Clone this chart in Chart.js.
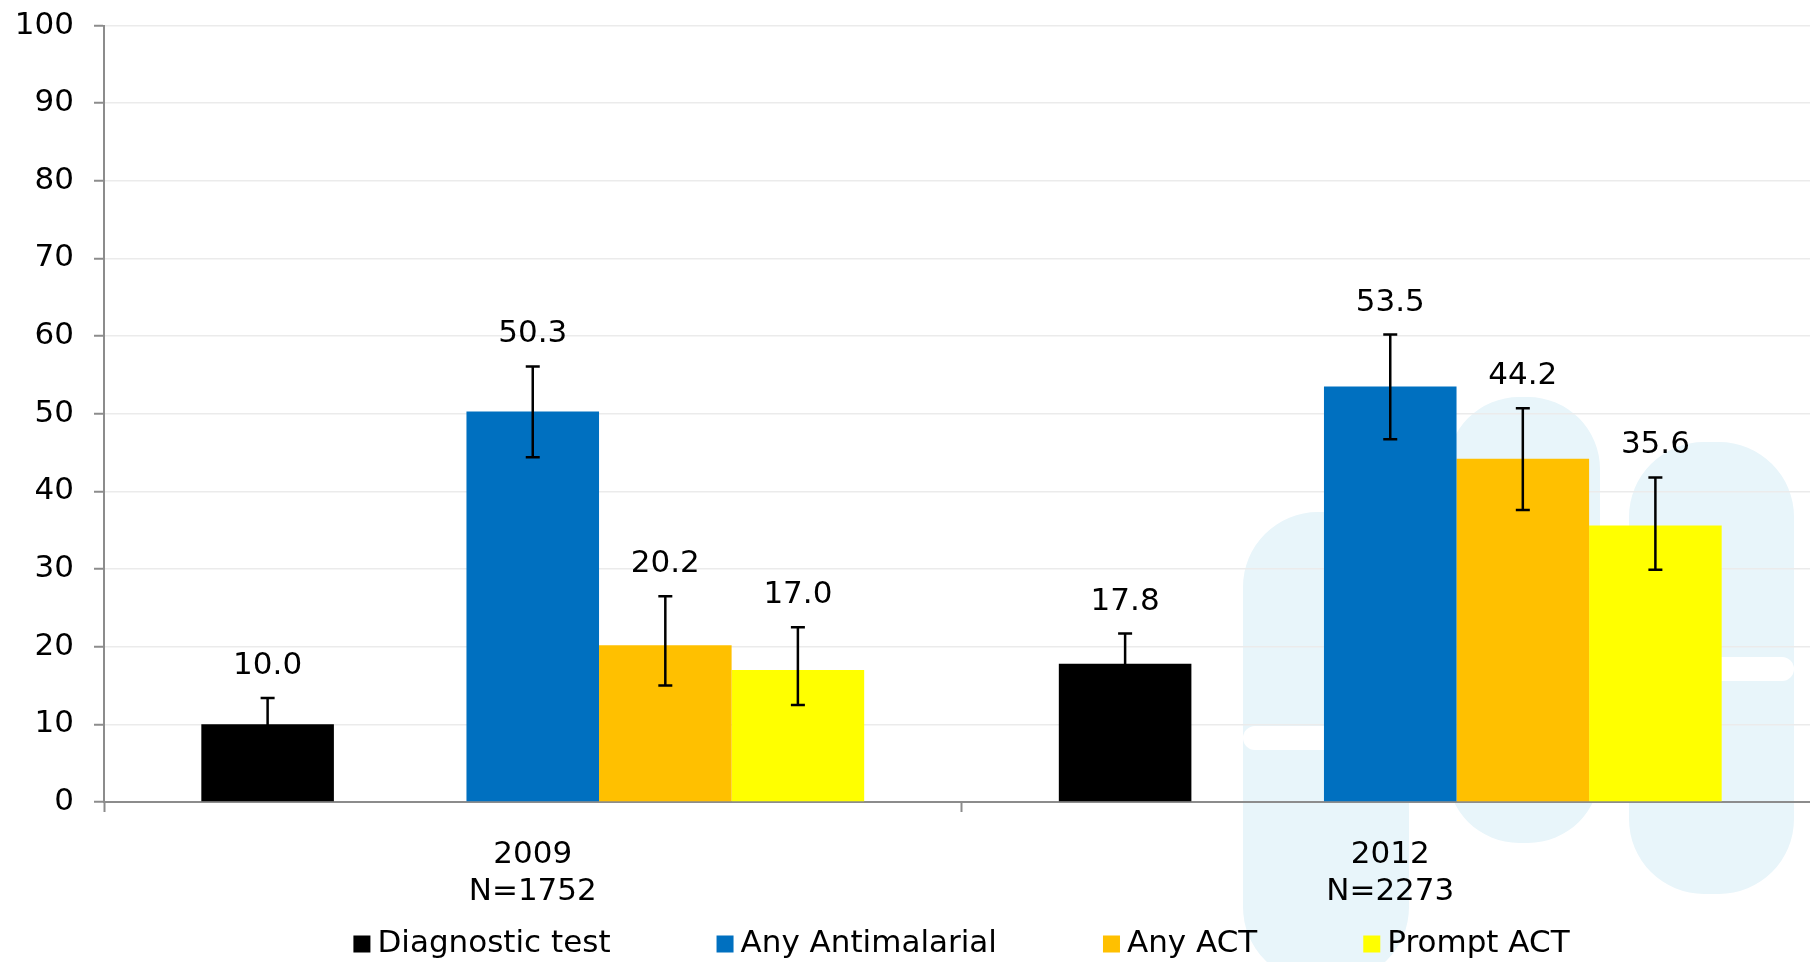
<!DOCTYPE html>
<html>
<head>
<meta charset="utf-8">
<title>Malaria treatment</title>
<script src="https://cdn.jsdelivr.net/npm/chart.js@4.4.0/dist/chart.umd.min.js"></script>
<style>
    html, body { margin: 0; padding: 0; background: #fff; overflow: hidden; }
    #wrap { width: 1820px; height: 962px; position: relative; }
</style>
</head>
<body>
<div id="wrap"><canvas id="chart"></canvas></div>
<script>
const years = [['2009', 'N=1752'], ['2012', 'N=2273']];
const seriesNames = ['Diagnostic test', 'Any Antimalarial', 'Any ACT', 'Prompt ACT'];
const seriesColors = ['#000000', '#0070C0', '#FFC000', '#FFFF00'];

const diagnosticTest = [10.0, 17.8];
const anyAntimalarial = [50.3, 53.5];
const anyAct = [20.2, 44.2];
const promptAct = [17.0, 35.6];

// 95% confidence limits, same order as the series
const lowerLimits = [[6.6, 13.9], [44.4, 46.7], [15.0, 37.6], [12.5, 29.9]];
const upperLimits = [[13.4, 21.7], [56.1, 60.2], [26.5, 50.7], [22.5, 41.8]];

const yMin = 0;
const yMax = 100;
const yStep = 10;

const FONT = 'DejaVu Sans, Verdana, sans-serif';
const FONT_SIZE = 31;

const seriesValues = [diagnosticTest, anyAntimalarial, anyAct, promptAct];

const makeDataset = (i) => ({
    label: seriesNames[i],
    data: seriesValues[i],
    backgroundColor: seriesColors[i],
    errLow: lowerLimits[i],
    errHigh: upperLimits[i],
    barPercentage: 1,
    categoryPercentage: 0.773
});

// the original leaves an empty slot after the first series
const spacer = {
    label: '',
    data: [null, null],
    backgroundColor: 'rgba(0,0,0,0)',
    barPercentage: 1,
    categoryPercentage: 0.773
};

const datasets = [makeDataset(0), spacer, makeDataset(1), makeDataset(2), makeDataset(3)];

// faint logo in the background of the original slide
const watermark = {
    id: 'watermark',
    beforeDraw(chart) {
        const ctx = chart.ctx;
        ctx.save();
        ctx.fillStyle = '#e8f5fa';
        ctx.beginPath();
        ctx.roundRect(1243, 512, 166, 470, 75);
        ctx.roundRect(1447, 397, 153, 446, 72);
        ctx.roundRect(1629, 442, 165, 452, 75);
        ctx.fill();
        ctx.fillStyle = '#ffffff';
        ctx.beginPath();
        ctx.roundRect(1243, 726, 120, 24, 12);
        ctx.roundRect(1700, 657, 94, 24, 12);
        ctx.fill();
        ctx.restore();
    }
};

const errorBars = {
    id: 'errorBars',
    afterDatasetsDraw(chart) {
        const ctx = chart.ctx;
        const yScale = chart.scales.y;
        ctx.save();
        chart.data.datasets.forEach((ds, i) => {
            if (!ds.errHigh) return;
            chart.getDatasetMeta(i).data.forEach((bar, j) => {
                const x = bar.x;
                const top = yScale.getPixelForValue(ds.errHigh[j]);
                const bottom = yScale.getPixelForValue(ds.errLow[j]);
                ctx.strokeStyle = '#000';
                ctx.lineWidth = 2.5;
                ctx.beginPath();
                ctx.moveTo(x, top);
                ctx.lineTo(x, bottom);
                ctx.moveTo(x - 7, top);
                ctx.lineTo(x + 7, top);
                ctx.moveTo(x - 7, bottom);
                ctx.lineTo(x + 7, bottom);
                ctx.stroke();

                ctx.fillStyle = '#000';
                ctx.font = FONT_SIZE + 'px ' + FONT;
                ctx.textAlign = 'center';
                ctx.textBaseline = 'middle';
                ctx.fillText(ds.data[j].toFixed(1), x, top - 32);
            });
        });
        ctx.restore();
    }
};

// legend drawn by hand so the gaps between items can be wide without a tall box
const bottomLegend = {
    id: 'bottomLegend',
    afterDraw(chart) {
        const ctx = chart.ctx;
        const box = 17, textGap = 7, itemGap = 106;
        ctx.save();
        ctx.font = FONT_SIZE + 'px ' + FONT;
        const widths = seriesNames.map(n => ctx.measureText(n).width);
        const total = widths.reduce((a, w) => a + box + textGap + w, 0) + itemGap * (widths.length - 1);
        const area = chart.chartArea;
        let x = (area.left + area.right) / 2 - total / 2;
        const y = area.bottom + 142;
        ctx.textBaseline = 'middle';
        ctx.textAlign = 'left';
        seriesNames.forEach((name, i) => {
            ctx.fillStyle = seriesColors[i];
            ctx.fillRect(x, y - box / 2, box, box);
            ctx.fillStyle = '#000';
            ctx.fillText(name, x + box + textGap, y);
            x += box + textGap + widths[i] + itemGap;
        });
        ctx.restore();
    }
};

new Chart(document.getElementById('chart').getContext('2d'), {
    type: 'bar',
    data: {
        labels: years,
        datasets
    },
    options: {
        responsive: true,
        maintainAspectRatio: false,
        animation: false,
        layout: {
            padding: { top: 25.5, right: 1, bottom: 0, left: 0 }
        },
        plugins: {
            legend: { display: false },
            tooltip: { enabled: false }
        },
        scales: {
            x: {
                afterFit: (scale) => { scale.height = 160; },
                grid: {
                    display: true,
                    drawOnChartArea: false,
                    tickLength: 10,
                    tickColor: '#8c8c8c',
                    tickWidth: 2
                },
                border: { color: '#8c8c8c', width: 2 },
                ticks: {
                    color: '#000',
                    padding: 24,
                    font: { family: FONT, size: FONT_SIZE, lineHeight: 1.2 }
                }
            },
            y: {
                min: yMin,
                max: yMax,
                afterFit: (scale) => {
                    scale.width = 104;
                    scale.paddingTop = 0;
                    scale.paddingBottom = 0;
                },
                grid: {
                    color: '#ebebeb',
                    lineWidth: 1.5,
                    tickLength: 10,
                    tickColor: '#8c8c8c',
                    tickWidth: 2
                },
                border: { color: '#8c8c8c', width: 2 },
                ticks: {
                    stepSize: yStep,
                    color: '#000',
                    padding: 20,
                    font: { family: FONT, size: FONT_SIZE }
                }
            }
        }
    },
    plugins: [watermark, errorBars, bottomLegend]
});
</script>
</body>
</html>
